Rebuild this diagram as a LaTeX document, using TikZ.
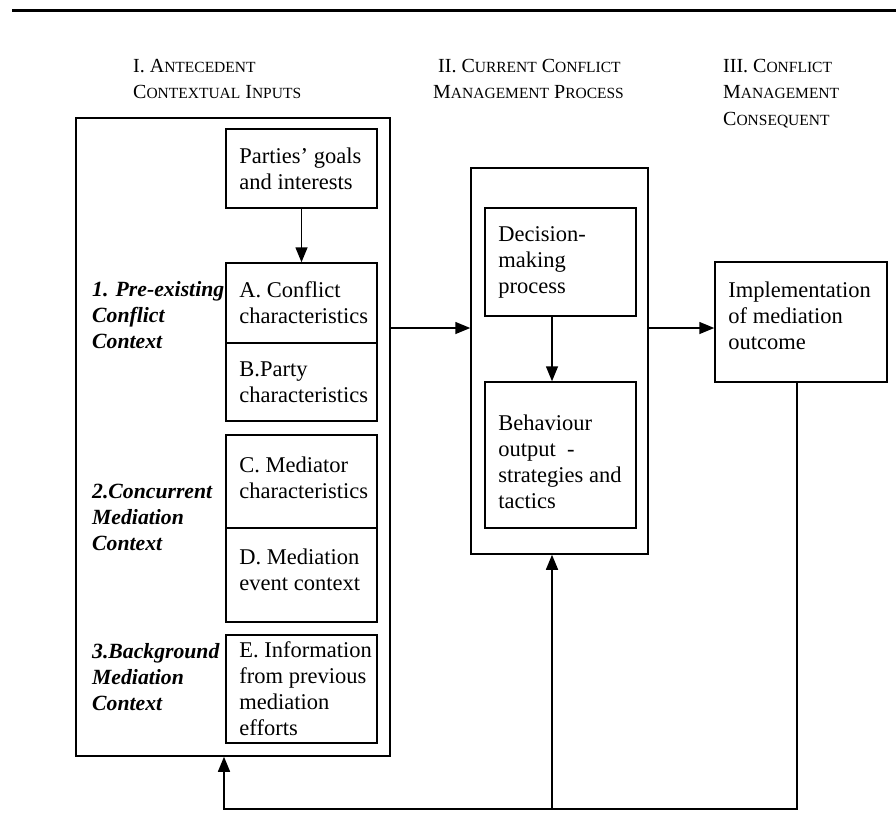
\documentclass[tikz,border=0pt]{standalone}
\usepackage{fontspec}
\setmainfont{Liberation Serif}
\usetikzlibrary{arrows.meta}
\newcommand\bodyf{\fontsize{22.5}{26}\selectfont}
\newcommand\labf{\fontsize{21.7}{26}\selectfont\bfseries\itshape}
\newcommand\hdrf{\fontsize{20}{26.5}\selectfont}
\newcommand\smc{\fontsize{15.5}{26.5}\selectfont}
\begin{document}
\begin{tikzpicture}[x=1pt,y=-1pt,
  box/.style={draw, line width=1.5pt, inner sep=0pt},
  txt/.style={anchor=west, align=left, inner sep=0pt, font=\bodyf},
  lab/.style={anchor=west, align=left, inner sep=0pt, font=\labf},
  hdr/.style={inner sep=0pt, font=\hdrf, align=left, anchor=north west},
  arr/.style={line width=1.5pt, -{Triangle[length=15pt,width=12pt]}},
  rule/.style={line width=3pt}]
\useasboundingbox (0,0) rectangle (896,839);
% top rule
\coordinate (r1) at (12,10);
\coordinate (r2) at (896,10);
\draw[rule] (r1) -- (r2);
% headers
\node[hdr] (h1) at (133,59) {I. A{\smc NTECEDENT}\\C{\smc ONTEXTUAL} I{\smc NPUTS}};
\node[hdr] (h2) at (438,59) {II. C{\smc URRENT} C{\smc ONFLICT}\\[-0.5pt]\hspace*{-5pt}M{\smc ANAGEMENT} P{\smc ROCESS}};
\node[hdr] (h3) at (723,59) {III. C{\smc ONFLICT}\\M{\smc ANAGEMENT}\\C{\smc ONSEQUENT}};
% outer boxes
\node[box, minimum width=314, minimum height=638] (outerL) at (233,437) {};
\node[box, minimum width=177, minimum height=386] (proc) at (559.5,361) {};
% left inner boxes
\node[box, minimum width=151, minimum height=79] (parties) at (301.5,168.5) {};
\node[box, minimum width=151, minimum height=80] (A) at (301.5,303) {};
\node[box, minimum width=151, minimum height=78] (B) at (301.5,382) {};
\node[box, minimum width=151, minimum height=93] (C) at (301.5,481.5) {};
\node[box, minimum width=151, minimum height=94] (D) at (301.5,575) {};
\node[box, minimum width=151, minimum height=108] (E) at (301.5,689) {};
\node[txt] (partiesT) at ([xshift=14pt]parties.west) {Parties’ goals\\and interests};
\node[txt] (AT) at ([xshift=14pt]A.west) {A. Conflict\\characteristics};
\node[txt] (BT) at ([xshift=14pt]B.west) {B.Party\\characteristics};
\node[txt] (CT) at ([xshift=14pt,yshift=4pt]C.west) {C. Mediator\\characteristics};
\node[txt] (DT) at ([xshift=14pt,yshift=5pt]D.west) {D. Mediation\\event context};
\node[txt] (ET) at ([xshift=14pt]E.west) {E. Information\\from previous\\mediation\\efforts};
% left labels
\node[lab] (L1) at (92,315) {1. Pre-existing\\Conflict\\Context};
\node[lab] (L2) at (92,517) {2.Concurrent\\Mediation\\Context};
\node[lab] (L3) at (92,677) {3.Background\\Mediation\\Context};
% process boxes
\node[box, minimum width=151, minimum height=108] (dec) at (560.5,262) {};
\node[box, minimum width=151, minimum height=146] (beh) at (560.5,455) {};
\node[txt] (decT) at ([xshift=14pt]dec.west) {Decision-\\making\\process};
\node[txt] (behT) at ([xshift=14pt,yshift=-7pt]beh.west) {Behaviour\\output\ \ -\\strategies and\\tactics};
% implementation
\node[box, minimum width=172, minimum height=120] (impl) at (801,322) {};
\node[txt] (implT) at ([xshift=14pt,yshift=6pt]impl.west) {Implementation\\of mediation\\outcome};
% connectors
\coordinate (flow) at (0,328);
\coordinate (axis) at (552,0);
\coordinate (fbR) at (797,809);
\coordinate (fbL) at (224,809);
\draw[arr] (parties.south) -- (A.north);
\draw[arr] (outerL.east |- flow) -- (proc.west |- flow);
\draw[arr] (proc.east |- flow) -- (impl.west |- flow);
\draw[arr] (dec.south -| axis) -- (beh.north -| axis);
\draw[arr] (impl.south -| fbR) -- (fbR) -- (fbL) -- (outerL.south -| fbL);
\draw[arr] (axis |- fbR) -- (proc.south -| axis);
\end{tikzpicture}
\end{document}
